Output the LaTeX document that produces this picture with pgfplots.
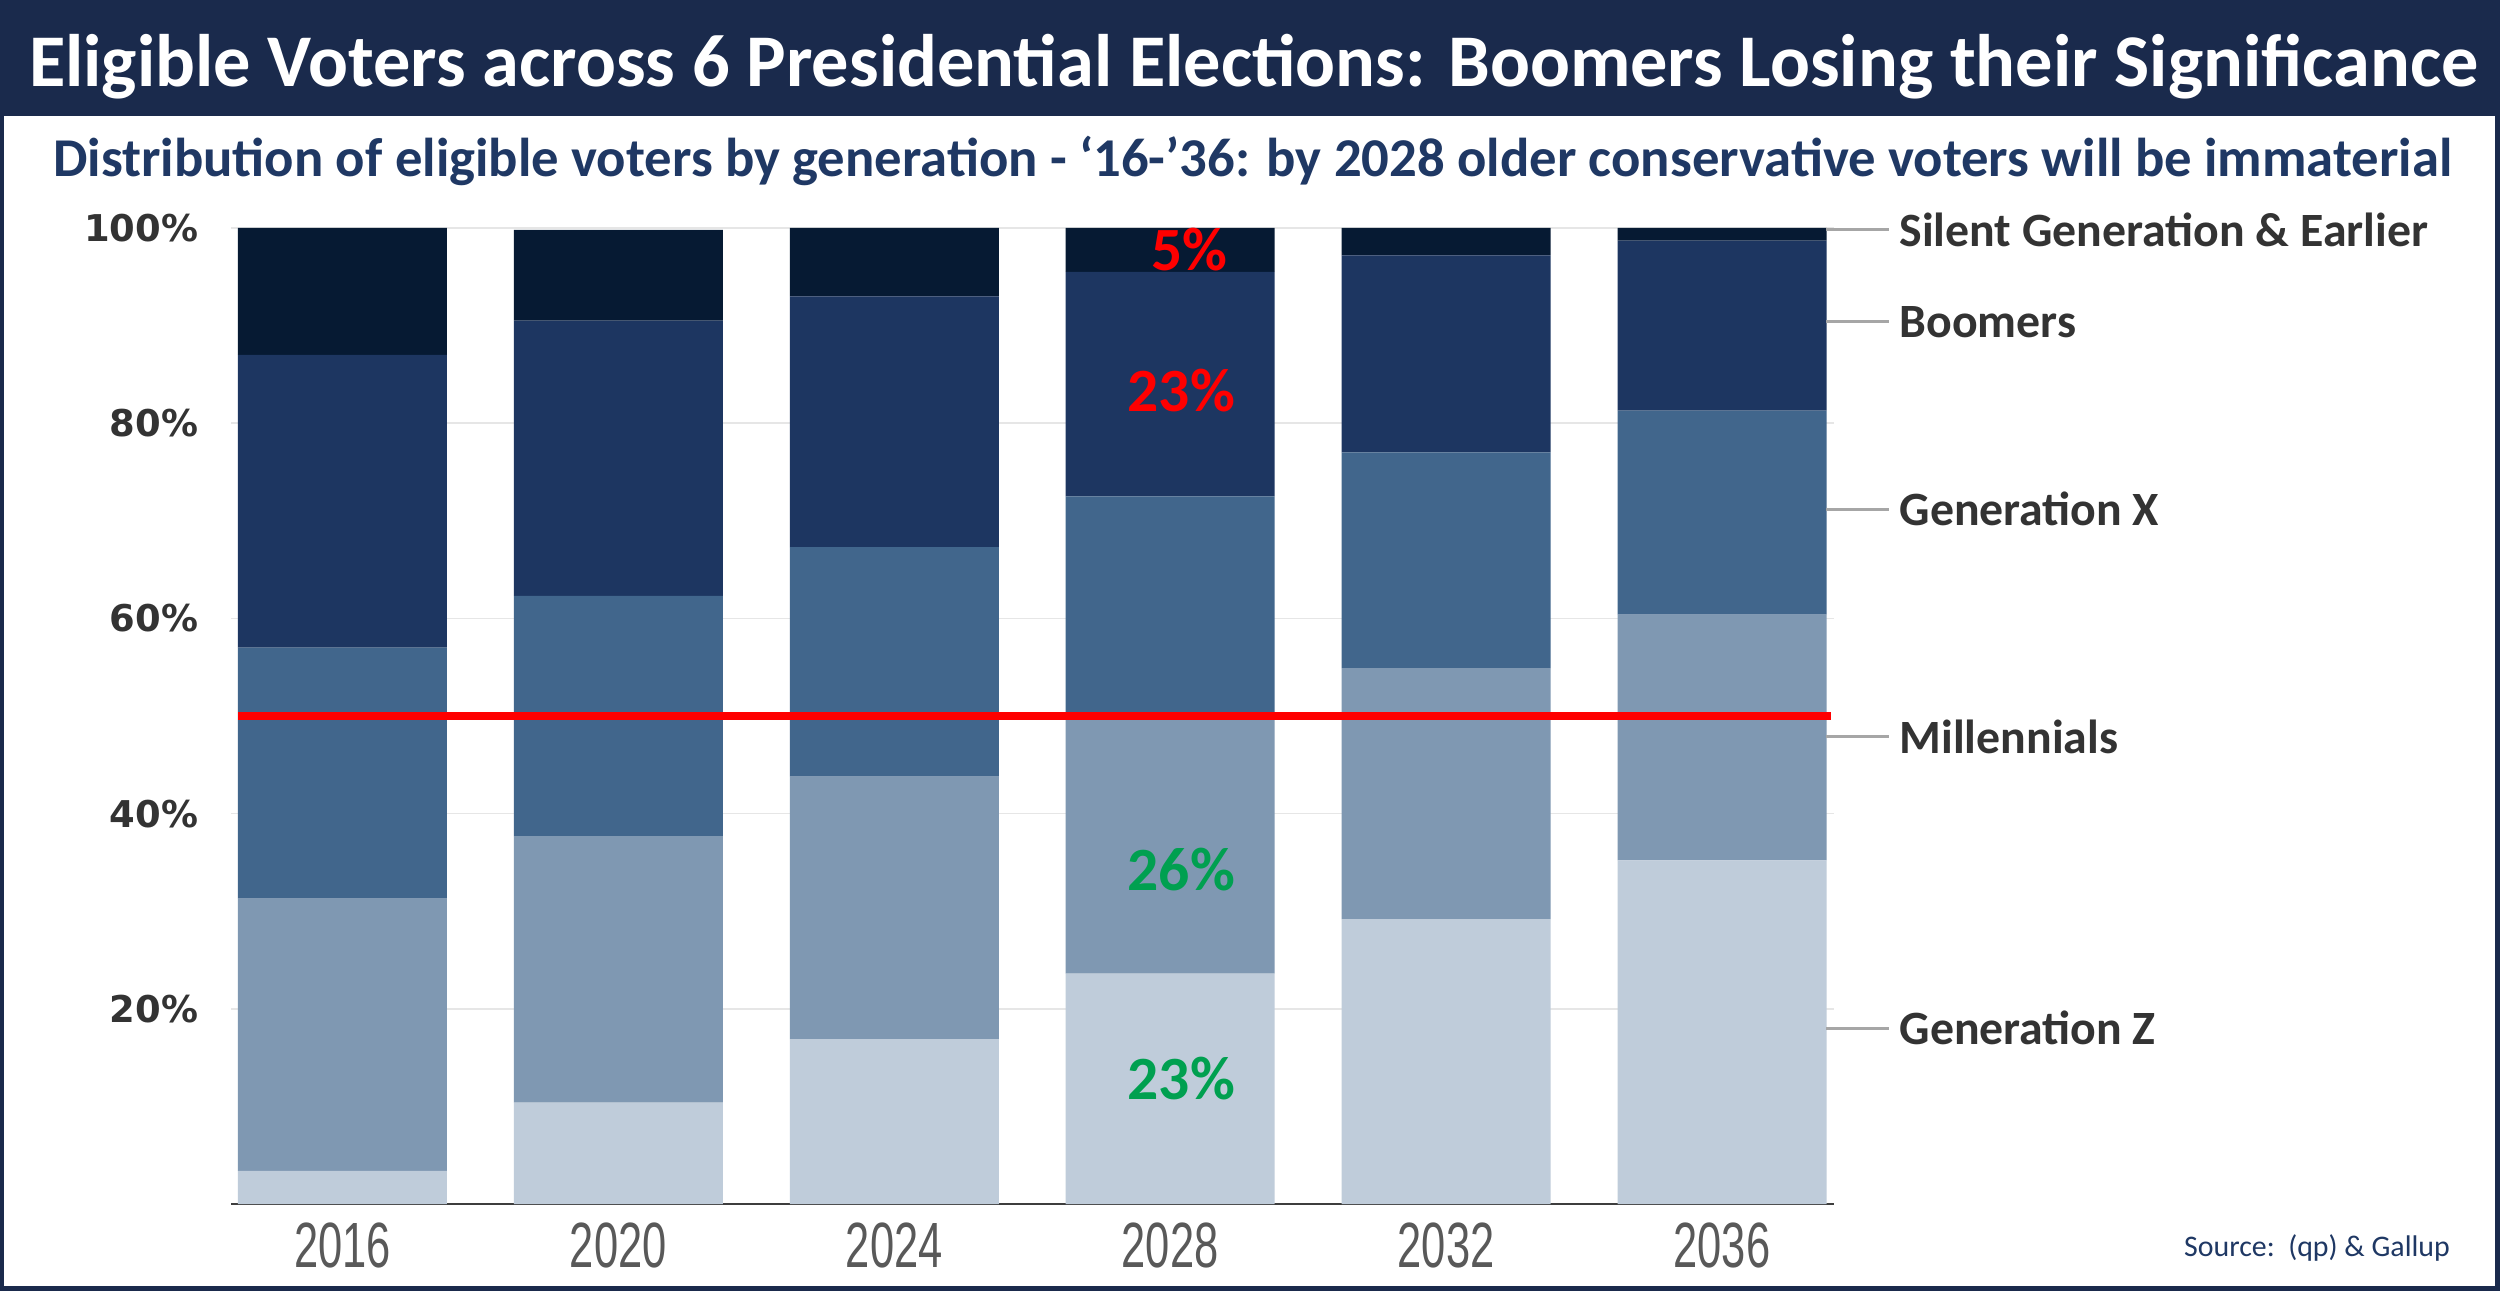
\documentclass[border=0pt]{standalone}
\usepackage{pgfplots}
\pgfplotsset{compat=1.18}
\usepackage{pgfplotstable}
\usepackage{fontspec}
\usepackage{graphicx}
\setmainfont{Carlito}
\newfontfamily\dejavu{DejaVu Sans}
\newfontfamily\libsans{Liberation Sans}
\definecolor{navy}{RGB}{26,42,76}
\definecolor{subnavy}{RGB}{31,56,100}
\definecolor{cSilent}{RGB}{6,26,51}
\definecolor{cBoom}{RGB}{29,54,97}
\definecolor{cGenX}{RGB}{65,102,140}
\definecolor{cMill}{RGB}{127,152,178}
\definecolor{cGenZ}{RGB}{191,204,218}
\definecolor{labgray}{RGB}{51,51,51}
\definecolor{xgray}{RGB}{89,89,89}
\definecolor{leader}{RGB}{166,166,166}
\definecolor{gridc}{RGB}{230,230,230}
\definecolor{annGreen}{RGB}{0,160,80}

\pgfplotstableread{
x Z Mill GenX Boom Silent
0 3.4 27.9 25.7 30.0 13.0
1 10.4 27.3 24.6 28.2 9.3
2 16.9 26.9 23.5 25.7 7.0
3 23.6 26.5 22.4 23.0 4.5
4 29.2 25.7 22.1 20.2 2.8
5 35.2 25.2 20.9 17.4 1.3
}\votedata

\newcommand\xlab[1]{\scalebox{0.68}[1]{#1}}
\tikzset{
  serieslab/.style={anchor=west, inner sep=0pt, text=labgray, font=\bfseries\fontsize{13.6pt}{15pt}\selectfont},
  leaderln/.style={draw=leader, line width=0.03cm},
  annot/.style={inner sep=0pt, font=\bfseries\fontsize{17.5pt}{20pt}\selectfont},
}

\begin{document}
\begin{tikzpicture}
\begin{scope}[x=0.01cm,y=-0.01cm]
\fill[white] (0,0) rectangle (2501,1291);
\fill[navy] (2,2) rectangle (2499,116);
\draw[navy, line width=0.05cm] (2,2) rectangle (2499,1289);
\node[anchor=base, text=white, inner sep=0pt] at (1254.5,87) {\resizebox{24.49cm}{!}{\bfseries Eligible Voters across 6 Presidential Elections: Boomers Losing their Significance}};
\node[anchor=base, text=subnavy, inner sep=0pt] at (1253.5,177) {\resizebox{23.99cm}{!}{\bfseries Distribution of eligible voters by generation - ‘16-’36: by 2028 older conservative voters will be immaterial}};
\node[anchor=mid east, text=subnavy, inner sep=0pt, font=\fontsize{8.5pt}{10pt}\selectfont] at (2452,1249) {Source:\ \ (qp) \& Gallup};
\end{scope}
\begin{axis}[
  at={(2.31cm,-12.04cm)}, anchor=south west,
  scale only axis, width=16.03cm, height=9.76cm,
  ybar stacked, bar width=2.09cm,
  xmin=-0.404, xmax=5.406, ymin=0, ymax=100,
  axis x line*=bottom, axis y line*=left,
  y axis line style={draw=none},
  x axis line style={draw=xgray!70!black, line width=0.02cm},
  tick style={draw=none},
  xtick={0,1,2,3,4,5},
  xticklabels={\xlab{2016},\xlab{2020},\xlab{2024},\xlab{2028},\xlab{2032},\xlab{2036}},
  ytick={20,40,60,80,100},
  yticklabels={20\%,40\%,60\%,80\%,100\%},
  ymajorgrids, grid style={draw=gridc, line width=0.015cm},
  yticklabel style={font=\dejavu\bfseries\fontsize{10.5pt}{12pt}\selectfont, text=labgray, inner sep=0pt, xshift=-0.32cm},
  xticklabel style={font=\libsans\fontsize{18.2pt}{20pt}\selectfont, text=xgray, inner sep=0pt, yshift=-0.18cm},
  clip=false,
]
\addplot[fill=cGenZ, draw=none] table[x=x,y=Z]{\votedata};
\addplot[fill=cMill, draw=none] table[x=x,y=Mill]{\votedata};
\addplot[fill=cGenX, draw=none] table[x=x,y=GenX]{\votedata};
\addplot[fill=cBoom, draw=none] table[x=x,y=Boom]{\votedata};
\addplot[fill=cSilent, draw=none] table[x=x,y=Silent]{\votedata};

\coordinate (redA) at (axis cs:-0.3785,50);
\coordinate (redB) at (axis cs:5.395,50);
\coordinate (lA1) at (axis cs:5.3785,99.8); \coordinate (lB1) at (axis cs:5.607,99.8); \coordinate (lT1) at (axis cs:5.641,99.8);
\coordinate (lA2) at (axis cs:5.3785,90.4); \coordinate (lB2) at (axis cs:5.607,90.4); \coordinate (lT2) at (axis cs:5.641,90.4);
\coordinate (lA3) at (axis cs:5.3785,71.2); \coordinate (lB3) at (axis cs:5.607,71.2); \coordinate (lT3) at (axis cs:5.641,71.2);
\coordinate (lA4) at (axis cs:5.3785,47.9); \coordinate (lB4) at (axis cs:5.607,47.9); \coordinate (lT4) at (axis cs:5.641,47.9);
\coordinate (lA5) at (axis cs:5.3785,18.0); \coordinate (lB5) at (axis cs:5.607,18.0); \coordinate (lT5) at (axis cs:5.641,18.0);
\coordinate (a1) at (axis cs:3.07,97.8);
\coordinate (a2) at (axis cs:3.04,83.3);
\coordinate (a3) at (axis cs:3.04,34.3);
\coordinate (a4) at (axis cs:3.04,12.9);
\end{axis}

\draw[red, line width=0.08cm] (redA) -- (redB);
\draw[leaderln] (lA1) -- (lB1); \node[serieslab] at (lT1) {Silent Generation \& Earlier};
\draw[leaderln] (lA2) -- (lB2); \node[serieslab] at (lT2) {Boomers};
\draw[leaderln] (lA3) -- (lB3); \node[serieslab] at (lT3) {Generation X};
\draw[leaderln] (lA4) -- (lB4); \node[serieslab] at (lT4) {Millennials};
\draw[leaderln] (lA5) -- (lB5); \node[serieslab] at (lT5) {Generation Z};
\node[annot, text=red] at (a1) {5\%};
\node[annot, text=red] at (a2) {23\%};
\node[annot, text=annGreen] at (a3) {26\%};
\node[annot, text=annGreen] at (a4) {23\%};

\pgfresetboundingbox
\path[use as bounding box] (0,0) rectangle (25.01cm,-12.91cm);
\end{tikzpicture}
\end{document}
